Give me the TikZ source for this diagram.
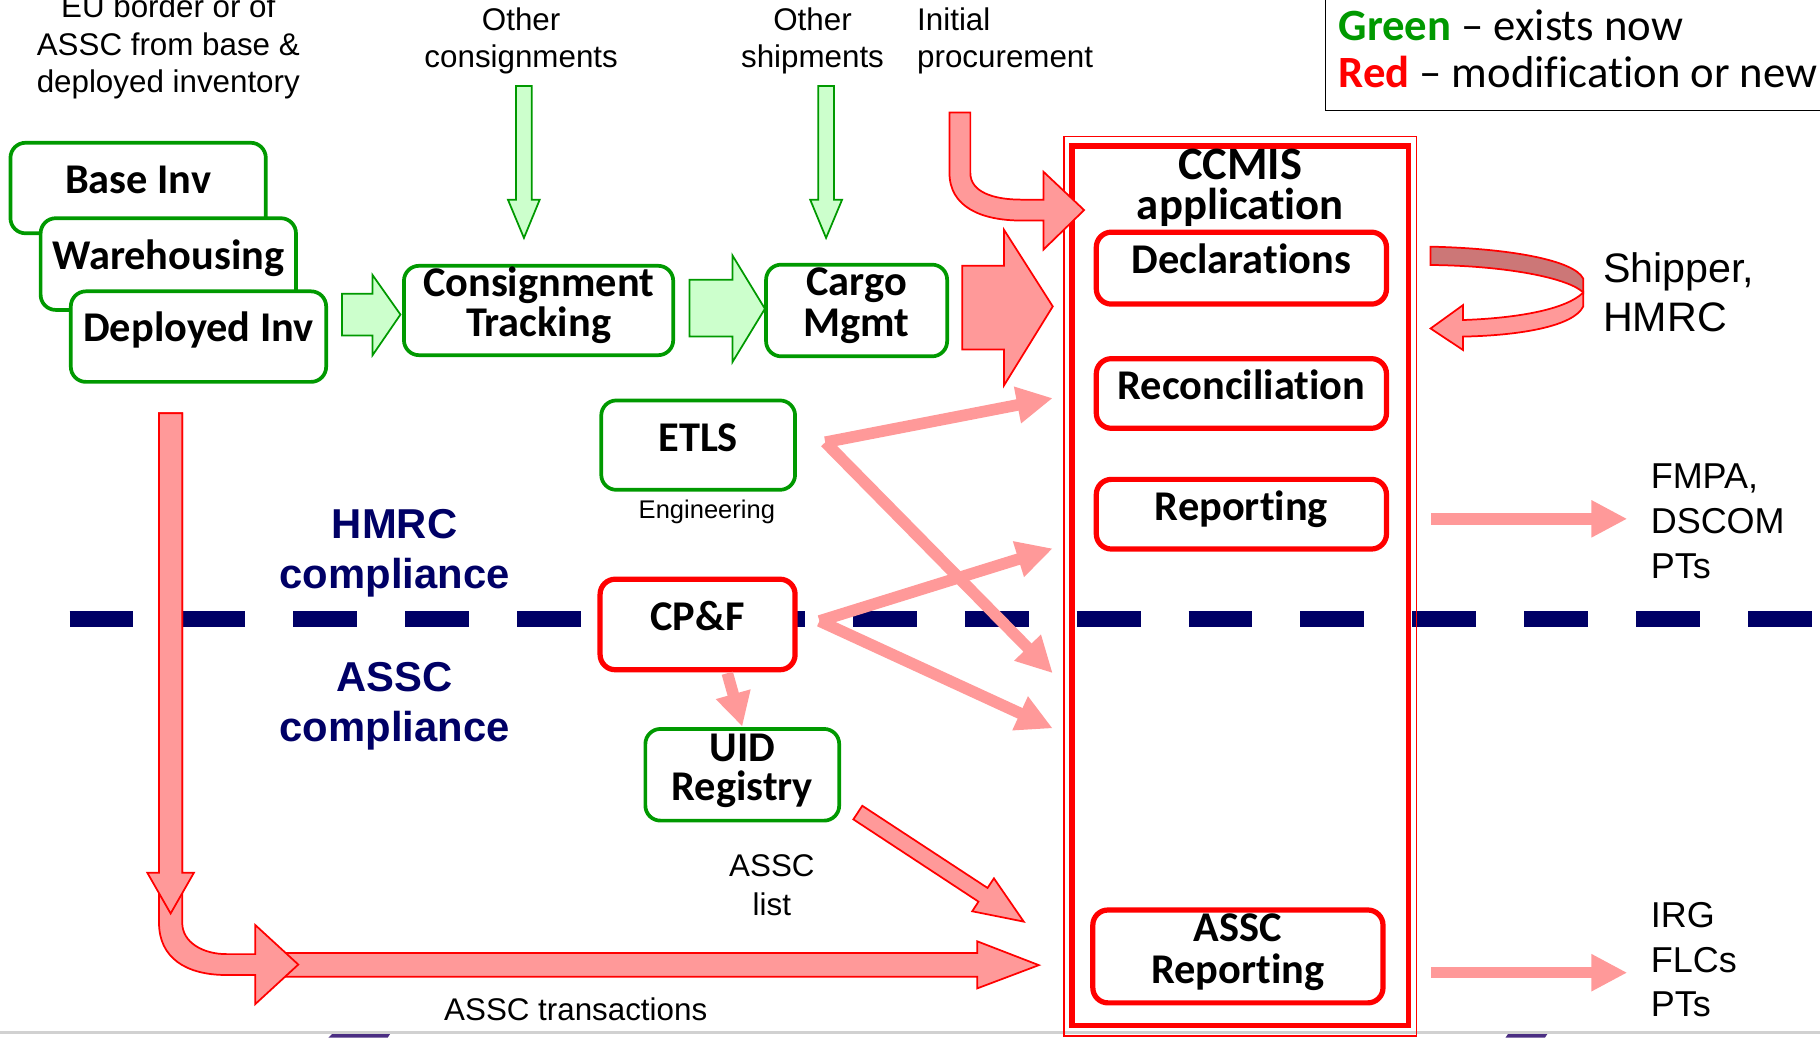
\documentclass[tikz,border=0pt]{standalone}
\usepackage{fontspec}
\setmainfont{Liberation Sans}
\newfontfamily\calfont[Ligatures=NoCommon]{Carlito}
\usetikzlibrary{arrows.meta}
\definecolor{gr}{HTML}{009900}
\definecolor{lgr}{HTML}{CCFFCC}
\definecolor{rd}{HTML}{FF0000}
\definecolor{pk}{HTML}{FF9999}
\definecolor{dpk}{HTML}{CC7777}
\definecolor{navyc}{HTML}{000066}
\definecolor{purp}{HTML}{4B2E83}
\begin{document}
\begin{tikzpicture}[x=1pt,y=-1pt,
  gbox/.style={draw=gr, line width=3.2pt, rounded corners=13pt, fill=white, inner sep=0pt},
  rbox/.style={draw=rd, line width=4.5pt, rounded corners=13pt, fill=white, inner sep=0pt},
  blbl/.style={font=\calfont\bfseries\fontsize{36.5}{36}\selectfont, inner sep=0pt, anchor=base},
  lbl/.style={font=\fontsize{27}{32}\selectfont, inner sep=0pt, anchor=base},
  lblw/.style={font=\fontsize{27}{32}\selectfont, inner sep=0pt, anchor=base west},
  side/.style={font=\fontsize{35.5}{42}\selectfont, inner sep=0pt, anchor=base west},
  sides/.style={font=\fontsize{31}{39}\selectfont, inner sep=0pt, anchor=base west},
  comp/.style={font=\bfseries\fontsize{36}{43}\selectfont, text=navyc, inner sep=0pt, anchor=base},
  leg/.style={font=\calfont\fontsize{38.5}{40}\selectfont, inner sep=0pt, anchor=base west},
  garrow/.style={fill=lgr, draw=gr, line width=1.5pt, line join=miter},
  rarrow/.style={fill=pk, draw=rd, line width=1.5pt, line join=miter},
  parrow/.style={draw=pk, line width=10pt, -{Triangle[length=31pt,width=30pt]}},
]
\useasboundingbox (0,0) rectangle (1568,894);
\clip (0,0) rectangle (1568,894);

% bottom slide edge
\draw[line width=2pt, black!18] (0,889.5) -- (1568,889.5);
\fill[purp] (286,891) -- (336,891) -- (334,894) -- (283,894) -- cycle;
\fill[purp] (1299,891) -- (1333,891) -- (1331,894) -- (1297,894) -- cycle;

% dashed boundary
\draw[navyc, line width=14pt, dash pattern=on 55pt off 41.4pt] (60,533) -- (1568,533);

% legend
\draw[black, line width=1.3pt] (1142,-10) rectangle (1590,95);
\node[leg] (legg) at (1153,35) {\bfseries\textcolor{gr}{Green}\mdseries{} – exists now};
\node[leg] (legr) at (1153,75) {\bfseries\textcolor{rd}{Red}\mdseries{} – modification or new};

% CCMIS frame
\draw[rd, line width=1.2pt] (916.5,117.5) rectangle (1220.5,892.5);
\node[draw=rd, line width=5pt, minimum width=290pt, minimum height=758pt, inner sep=0pt] (ccmis) at (1068.5,504.5) {};
\node[blbl, font=\calfont\bfseries\fontsize{40}{40}\selectfont] (ccmisl1) at (1068.5,155) {CCMIS};
\node[blbl, font=\calfont\bfseries\fontsize{38.5}{40}\selectfont] (ccmisl2) at (1068.5,189.5) {application};

% top labels
\node[lbl] (eu1) at (145,15) {EU border or of};
\node[lbl] (eu2) at (145,47.5) {ASSC from base \&};
\node[lbl] (eu3) at (145,80) {deployed inventory};
\node[lbl] (oc1) at (449,26) {Other};
\node[lbl] (oc2) at (449,58.5) {consignments};
\node[lbl] (os1) at (700,26) {Other};
\node[lbl] (os2) at (700,58.5) {shipments};
\node[lblw] (ip1) at (790,26) {Initial};
\node[lblw] (ip2) at (790,58.5) {procurement};

% green boxes
\node[gbox, minimum width=220pt, minimum height=78pt] (baseinv) at (119,162) {};
\node[blbl] (baseinvl) at (119,167) {Base Inv};
\node[gbox, minimum width=220pt, minimum height=79pt] (wareh) at (145,227.5) {};
\node[blbl] (warehl) at (145,232) {Warehousing};
\node[gbox, minimum width=220pt, minimum height=78pt] (depinv) at (171,290) {};
\node[blbl] (depinvl) at (171,294.5) {Deployed Inv};
\node[gbox, minimum width=232pt, minimum height=77pt] (consign) at (464,267.5) {};
\node[blbl] (consignl1) at (464,255.5) {Consignment};
\node[blbl] (consignl2) at (464,290) {Tracking};
\node[gbox, minimum width=156pt, minimum height=79pt] (cargo) at (738,267.5) {};
\node[blbl] (cargol1) at (738,255) {Cargo};
\node[blbl] (cargol2) at (738,289.5) {Mgmt};
\node[gbox, minimum width=167pt, minimum height=77pt] (etls) at (601.5,383.5) {};
\node[blbl] (etlsl) at (601.5,389) {ETLS};
\node[lbl, font=\fontsize{22}{26}\selectfont] (engl) at (609,447) {Engineering};
\node[rbox, minimum width=168pt, minimum height=78pt] (cpf) at (601,538) {};
\node[blbl] (cpfl) at (601,543) {CP\&F};
\node[gbox, minimum width=167pt, minimum height=79pt] (uid) at (639.5,667.5) {};
\node[blbl] (uidl1) at (639.5,656) {UID};
\node[blbl] (uidl2) at (639.5,689.5) {Registry};

% red boxes inside CCMIS
\node[rbox, minimum width=250pt, minimum height=62pt] (decl) at (1069.5,231) {};
\node[blbl] (decll) at (1069.5,236) {Declarations};
\node[rbox, minimum width=250pt, minimum height=60pt] (recon) at (1069.5,339) {};
\node[blbl] (reconl) at (1069.5,344.5) {Reconciliation};
\node[rbox, minimum width=250pt, minimum height=60pt] (report) at (1069.5,443) {};
\node[blbl] (reportl) at (1069.5,448) {Reporting};
\node[rbox, minimum width=250pt, minimum height=80pt] (asscrep) at (1066.5,824) {};
\node[blbl] (asscrepl1) at (1066.5,811.5) {ASSC};
\node[blbl] (asscrepl2) at (1066.5,847) {Reporting};

% compliance labels
\node[comp] (hm1) at (340,464) {HMRC};
\node[comp] (hm2) at (340,507) {compliance};
\node[comp] (as1) at (340,596) {ASSC};
\node[comp] (as2) at (340,639) {compliance};

% other labels
\node[lbl] (al1) at (665,755.5) {ASSC};
\node[lbl] (al2) at (665,788.5) {list};
\node[lbl] (atr) at (496,879) {ASSC transactions};
\node[side] (sh1) at (1381,243) {Shipper,};
\node[side] (sh2) at (1381,286) {HMRC};
\node[sides] (fm1) at (1422,421) {FMPA,};
\node[sides] (fm2) at (1422,460) {DSCOM};
\node[sides] (fm3) at (1422,498.5) {PTs};
\node[sides] (ir1) at (1422,799) {IRG};
\node[sides] (ir2) at (1422,837.5) {FLCs};
\node[sides] (ir3) at (1422,876) {PTs};

% green block arrows
\draw[garrow] (444.6,74) -- (458.2,74) -- (458.2,172) -- (465,172) -- (451.4,205) -- (437.6,172) -- (444.6,172) -- cycle;
\draw[garrow] (705,74) -- (718.5,74) -- (718.5,172) -- (725.5,172) -- (711.7,205) -- (698,172) -- (705,172) -- cycle;
\draw[garrow] (294.7,253) -- (321,253) -- (321,237) -- (345,271) -- (321,306) -- (321,289) -- (294.7,289) -- cycle;
\draw[garrow] (594,241) -- (631,241) -- (631,220) -- (659,266) -- (631,312) -- (631,290) -- (594,290) -- cycle;

% red block arrows
\draw[rarrow] (829,229) -- (865,229) -- (865,198) -- (907,264) -- (865,332) -- (865,301) -- (829,301) -- cycle;
\draw[rarrow] (818,97) -- (818,149) .. controls (818,178) and (845,190) .. (880,190) -- (899,190) -- (899,215) -- (934,181) -- (899,148) -- (899,172) -- (880,172) .. controls (855,172) and (836,165) .. (836,149) -- (836,97) -- cycle;
\draw[rarrow] (742.9,694.2) -- (850.8,765.0) -- (856.3,756.7) -- (882,794) -- (837.6,785.1) -- (843.0,776.8) -- (735.2,705.9) -- cycle;

% ASSC transactions arrows
\draw[rarrow] (240,821) -- (842,821) -- (842,811) -- (895,831.5) -- (842,851.5) -- (842,841.5) -- (240,841.5) -- cycle;
\draw[rarrow] (137,356) -- (137,795) .. controls (137,825) and (160,840) .. (195,840) -- (220,840) -- (220,865) -- (257,831) -- (220,797) -- (220,822) -- (195,822) .. controls (175,822) and (157,812) .. (157,795) -- (157,356) -- cycle;
\draw[rarrow] (137,356) -- (137,752) -- (127,752) -- (147,787) -- (167,752) -- (157,752) -- (157,356) -- cycle;

% ribbon arrow Declarations <-> Shipper
\draw[rarrow] (1364,252) -- (1364,264) .. controls (1356,281) and (1310,289) .. (1260.5,290) -- (1260.5,301.6) -- (1232.5,283) -- (1260.5,262.8) -- (1260.5,275.7) .. controls (1310,274) and (1350,266) .. (1364,252) -- cycle;
\draw[rarrow, fill=dpk] (1232.5,212.5) .. controls (1300,214) and (1356,224) .. (1364,240) -- (1364,252) .. controls (1352,240) and (1300,229) .. (1232.5,228.3) -- cycle;

% pink arrows
\coordinate (etlsout) at (711,381);
\coordinate (cpfout) at (706,535);
\coordinate (tA) at (907,343);
\coordinate (tB) at (907,580);
\coordinate (tC) at (907,472.5);
\coordinate (tD) at (907,627.5);
\coordinate (cpfdown) at (626.6,580);
\coordinate (uidin) at (639.5,626);
\coordinate (repout) at (1233,447);
\coordinate (fmin) at (1402,447);
\coordinate (arout) at (1233,838);
\coordinate (irin) at (1402,838);
\draw[parrow] (etlsout) -- (tA);
\draw[parrow] (etlsout) -- (tB);
\draw[parrow] (cpfout) -- (tC);
\draw[parrow] (cpfout) -- (tD);
\draw[parrow, -{Triangle[length=29pt,width=29pt]}] (cpfdown) -- (uidin);
\draw[parrow] (repout) -- (fmin);
\draw[parrow] (arout) -- (irin);
\end{tikzpicture}
\end{document}
